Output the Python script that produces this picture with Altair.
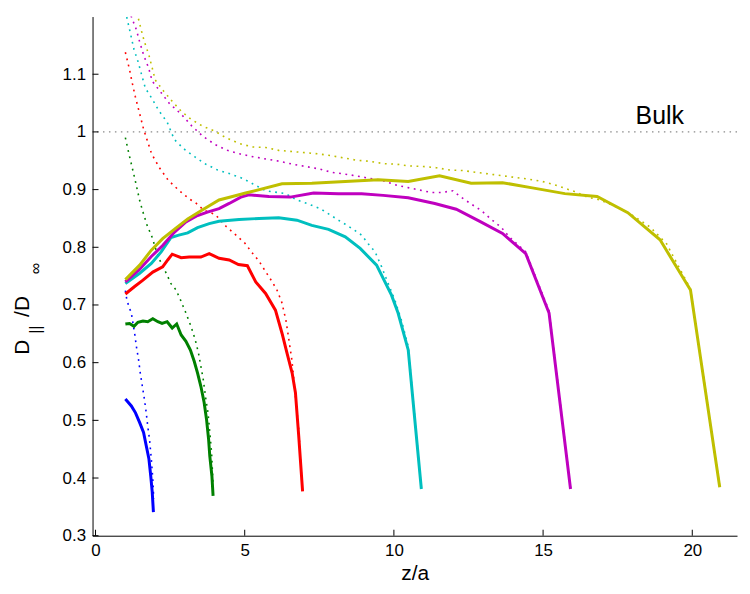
import altair as alt
import pandas as pd

# ---------------- data ----------------
SERIES = ["L2", "L4", "L7", "L11", "L16", "L21"]
COLORS = ["#0000ff", "#008000", "#ff0000", "#00bfbf", "#bf00bf", "#bfbf00"]

blue_x = [1.0, 1.2, 1.34, 1.48, 1.61, 1.7, 1.79, 1.85, 1.9, 1.94]
blue_y = [0.537, 0.525, 0.513, 0.496, 0.479, 0.456, 0.433, 0.404, 0.376, 0.341]
blue_dx = [1.0, 1.05, 1.12, 1.2, 1.31, 1.37, 1.44, 1.5, 1.57, 1.64, 1.7, 1.75, 1.81, 1.87, 1.92, 1.95]
blue_dy = [0.725, 0.709, 0.697, 0.686, 0.651, 0.628, 0.606, 0.582, 0.559, 0.536, 0.513, 0.490, 0.467, 0.433, 0.398, 0.364]

green_x = [1.0, 1.14, 1.29, 1.42, 1.59, 1.75, 1.92, 2.09, 2.23, 2.4, 2.57, 2.72, 2.87, 3.03, 3.18, 3.31,
           3.42, 3.53, 3.64, 3.72, 3.79, 3.83, 3.9, 3.94]
green_y = [0.667, 0.668, 0.663, 0.670, 0.672, 0.671, 0.676, 0.671, 0.668, 0.671, 0.660, 0.667, 0.648, 0.637,
           0.622, 0.602, 0.582, 0.559, 0.531, 0.502, 0.467, 0.438, 0.404, 0.369]
green_dx = [1.0, 1.12, 1.23, 1.33, 1.48, 1.59, 1.73, 1.9, 2.03, 2.2, 2.37, 2.53, 2.7, 2.87, 3.03, 3.2, 3.34,
            3.45, 3.53, 3.61, 3.7, 3.77, 3.83, 3.89, 3.94]
green_dy = [0.99, 0.962, 0.938, 0.916, 0.881, 0.861, 0.838, 0.817, 0.795, 0.772, 0.755, 0.737, 0.726, 0.706,
            0.686, 0.663, 0.640, 0.617, 0.594, 0.571, 0.536, 0.513, 0.479, 0.444, 0.387]

red_x = [1.0, 1.31, 1.59, 1.92, 2.25, 2.42, 2.57, 2.87, 3.14, 3.53, 3.81, 4.14, 4.48, 4.79, 5.09, 5.37, 5.7,
         6.03, 6.25, 6.42, 6.59, 6.7, 6.81, 6.94]
red_y = [0.719, 0.732, 0.743, 0.757, 0.766, 0.778, 0.788, 0.782, 0.783, 0.783, 0.789, 0.781, 0.778, 0.770,
         0.768, 0.740, 0.720, 0.691, 0.651, 0.616, 0.582, 0.548, 0.473, 0.377]
red_dx = [1.0, 1.14, 1.23, 1.33, 1.61, 1.88, 2.14, 2.44, 2.81, 3.14, 3.38, 3.64, 4.01, 4.38, 4.71, 5.01, 5.24,
          5.48, 5.71, 5.91, 6.08, 6.24, 6.38, 6.48, 6.58, 6.68, 6.81, 6.93]
red_dy = [1.138, 1.108, 1.085, 1.062, 1.005, 0.962, 0.938, 0.916, 0.898, 0.884, 0.876, 0.864, 0.857, 0.836,
          0.821, 0.807, 0.791, 0.776, 0.757, 0.741, 0.726, 0.705, 0.674, 0.640, 0.605, 0.553, 0.484, 0.381]

cyan_x = [1.0, 1.48, 1.87, 2.2, 2.53, 2.79, 3.09, 3.42, 3.81, 4.14, 4.81, 5.48, 6.14, 6.75, 7.25, 7.81, 8.37,
          8.87, 9.42, 9.92, 10.14, 10.48, 10.92]
cyan_y = [0.737, 0.755, 0.772, 0.792, 0.817, 0.821, 0.825, 0.834, 0.841, 0.845, 0.848, 0.850, 0.851, 0.847,
          0.838, 0.831, 0.818, 0.798, 0.769, 0.717, 0.686, 0.622, 0.381]
cyan_dx = [1.0, 1.09, 1.19, 1.29, 1.43, 1.55, 1.67, 1.9, 2.12, 2.4, 2.64, 2.95, 3.32, 3.7, 4.09, 4.53, 4.95,
           5.34, 5.7, 6.37, 6.75, 7.14, 7.53, 7.81, 8.14, 8.37, 8.7, 8.92, 9.14, 9.37, 9.59, 9.81, 10.03, 10.25,
           10.48, 10.92]
cyan_dy = [1.21, 1.189, 1.166, 1.143, 1.121, 1.098, 1.076, 1.057, 1.037, 1.017, 0.987, 0.971, 0.957, 0.944,
           0.934, 0.927, 0.919, 0.908, 0.898, 0.893, 0.882, 0.875, 0.867, 0.858, 0.847, 0.840, 0.829, 0.821,
           0.806, 0.792, 0.766, 0.737, 0.709, 0.674, 0.628, 0.381]

mag_x = [1.0, 1.48, 1.87, 2.25, 2.64, 3.03, 3.42, 3.75, 4.14, 4.48, 4.87, 5.14, 5.81, 6.53, 7.31, 8.14, 8.92,
         9.64, 10.48, 11.37, 12.09, 12.88, 13.64, 14.42, 15.2, 15.92]
mag_y = [0.740, 0.762, 0.784, 0.803, 0.826, 0.844, 0.855, 0.861, 0.867, 0.876, 0.887, 0.891, 0.888, 0.887,
         0.894, 0.893, 0.893, 0.890, 0.886, 0.876, 0.866, 0.845, 0.824, 0.789, 0.686, 0.381]
mag_dx = [1.0, 1.2, 1.37, 1.48, 1.62, 1.78, 1.9, 2.17, 2.48, 2.87, 3.23, 3.61, 4.01, 4.42, 4.83, 5.28, 5.72,
          6.17, 6.61, 7.05, 7.48, 7.92, 8.48, 9.03, 9.59, 10.14, 10.7, 11.25, 11.59, 11.98, 12.25, 12.59, 12.92,
          13.25, 13.59, 13.87, 14.42, 15.2, 15.92]
mag_dy = [1.233, 1.2, 1.177, 1.156, 1.132, 1.111, 1.088, 1.070, 1.049, 1.031, 1.010, 0.992, 0.978, 0.968,
          0.962, 0.957, 0.953, 0.949, 0.944, 0.940, 0.936, 0.930, 0.926, 0.921, 0.916, 0.907, 0.901, 0.895,
          0.895, 0.898, 0.887, 0.875, 0.864, 0.849, 0.835, 0.818, 0.792, 0.690, 0.383]

yel_x = [1.0, 1.48, 1.87, 2.25, 2.64, 3.09, 3.59, 4.14, 4.59, 5.03, 6.25, 7.25, 8.37, 9.48, 10.48, 11.53,
         12.59, 13.64, 14.64, 15.73, 16.81, 17.84, 18.92, 19.94, 20.92]
yel_y = [0.744, 0.769, 0.795, 0.815, 0.831, 0.849, 0.865, 0.882, 0.888, 0.894, 0.910, 0.911, 0.914, 0.917,
         0.914, 0.924, 0.911, 0.912, 0.903, 0.893, 0.888, 0.860, 0.813, 0.726, 0.384]
yel_dx = [1.0, 1.42, 1.53, 1.64, 1.79, 1.9, 2.0, 2.28, 2.57, 2.87, 3.2, 3.59, 4.01, 4.37, 4.81, 5.25, 5.7,
          6.14, 6.59, 7.03, 7.45, 7.87, 8.31, 8.75, 9.2, 9.64, 10.09, 10.53, 10.98, 11.42, 11.87, 12.31, 12.75,
          13.2, 13.64, 14.08, 14.53, 14.98, 15.35, 16.03, 16.48, 16.92, 17.37, 17.92, 18.59, 19.14, 19.94, 20.92]
yel_dy = [1.27, 1.2, 1.177, 1.156, 1.133, 1.111, 1.090, 1.071, 1.053, 1.036, 1.022, 1.010, 1.001, 0.990,
          0.980, 0.974, 0.973, 0.968, 0.966, 0.964, 0.962, 0.959, 0.955, 0.951, 0.949, 0.945, 0.944, 0.941,
          0.940, 0.938, 0.934, 0.933, 0.930, 0.927, 0.924, 0.921, 0.918, 0.914, 0.909, 0.897, 0.887, 0.882,
          0.872, 0.858, 0.835, 0.806, 0.728, 0.386]

BULK_Y = 1.0
BULK_LABEL = "Bulk"
BULK_LABEL_X = 18.1
BULK_LABEL_Y = 1.013

X_TICKS = [0, 5, 10, 15, 20]
Y_TICKS = [0.3, 0.4, 0.5, 0.6, 0.7, 0.8, 0.9, 1.0, 1.1]
X_DOMAIN = [-0.1, 21.5]
Y_DOMAIN = [0.3, 1.2]

solid = [(blue_x, blue_y), (green_x, green_y), (red_x, red_y), (cyan_x, cyan_y), (mag_x, mag_y), (yel_x, yel_y)]
dotted = [(blue_dx, blue_dy), (green_dx, green_dy), (red_dx, red_dy), (cyan_dx, cyan_dy), (mag_dx, mag_dy),
          (yel_dx, yel_dy)]


def build(pairs):
    rows = []
    for name, (xs, ys) in zip(SERIES, pairs):
        for i, (a, b) in enumerate(zip(xs, ys)):
            rows.append({"series": name, "x": a, "y": b, "i": i})
    return pd.DataFrame(rows)


df_solid = build(solid)
df_dot = build(dotted)

FONT = "Liberation Sans"
W, H = 648, 522

xs = alt.Scale(domain=X_DOMAIN, nice=False, zero=False)
ys = alt.Scale(domain=Y_DOMAIN, nice=False, zero=False)
cs = alt.Scale(domain=SERIES, range=COLORS)

x_enc = alt.X("x:Q", scale=xs, axis=alt.Axis(values=X_TICKS, title="z/a", titleFontSize=21,
                                               titleFont=FONT, titleFontWeight="normal", titlePadding=4,
                                               labelPadding=7, labelFlush=False))
y_enc = alt.Y("y:Q", scale=ys, axis=alt.Axis(values=Y_TICKS, title=None, format=".1~f",
                                               labelPadding=7))

bulk = alt.Chart(pd.DataFrame({"y": [BULK_Y]})).mark_rule(
    color="#8a8a8a", strokeWidth=1.2, strokeDash=[1.5, 4.5]).encode(y=alt.Y("y:Q", scale=ys))

dots = alt.Chart(df_dot).mark_line(strokeWidth=1.6, strokeDash=[1.8, 4.6], clip=True).encode(
    x=x_enc, y=y_enc, color=alt.Color("series:N", scale=cs, legend=None), detail="series:N",
    order="i:Q")

lines = alt.Chart(df_solid).mark_line(strokeWidth=3, clip=True).encode(
    x=alt.X("x:Q", scale=xs), y=alt.Y("y:Q", scale=ys),
    color=alt.Color("series:N", scale=cs, legend=None), detail="series:N", order="i:Q")

bulk_text = alt.Chart(pd.DataFrame({"x": [BULK_LABEL_X], "y": [BULK_LABEL_Y], "t": [BULK_LABEL]})).mark_text(
    align="left", baseline="alphabetic", font=FONT, fontSize=25, color="black").encode(
    x=alt.X("x:Q", scale=xs), y=alt.Y("y:Q", scale=ys), text="t:N")

ytick = alt.Chart(pd.DataFrame({"y": Y_TICKS})).mark_rule(color="black", strokeWidth=1).encode(
    y=alt.Y("y:Q", scale=ys), x=alt.value(0), x2=alt.value(6))
xtick = alt.Chart(pd.DataFrame({"x": X_TICKS})).mark_rule(color="black", strokeWidth=1).encode(
    x=alt.X("x:Q", scale=xs), y=alt.value(H), y2=alt.value(H - 6))

# y-axis title D_||/D_inf built from pieces (rotated)
title_parts = pd.DataFrame({
    "t": ["D", "||", "/D", "\u221e"],
    "px": [-64, -52, -64, -52],
    "py": [340, 319, 302, 259],
    "fs": [21, 16, 21, 16],
})
ttl_layers = []
for _, r in title_parts.iterrows():
    ttl_layers.append(
        alt.Chart(pd.DataFrame({"t": [r["t"]]})).mark_text(
            angle=270, align="left", baseline="alphabetic", font=FONT, fontSize=int(r["fs"]),
            color="black").encode(x=alt.value(float(r["px"])), y=alt.value(float(r["py"])), text="t:N")
    )

chart = alt.layer(bulk, dots, lines, bulk_text, ytick, xtick, *ttl_layers).properties(
    width=W, height=H,
    autosize=alt.AutoSizeParams(type="none"),
    padding={"left": 85, "top": 7, "right": 5, "bottom": 55},
).configure_view(stroke=None).configure_axis(
    domainColor="black", domainWidth=1, ticks=False, grid=False,
    labelFont=FONT, labelFontSize=17, labelColor="black", titleColor="black",
)

chart.save("out.html", embed_options={"renderer": "svg", "actions": False})
